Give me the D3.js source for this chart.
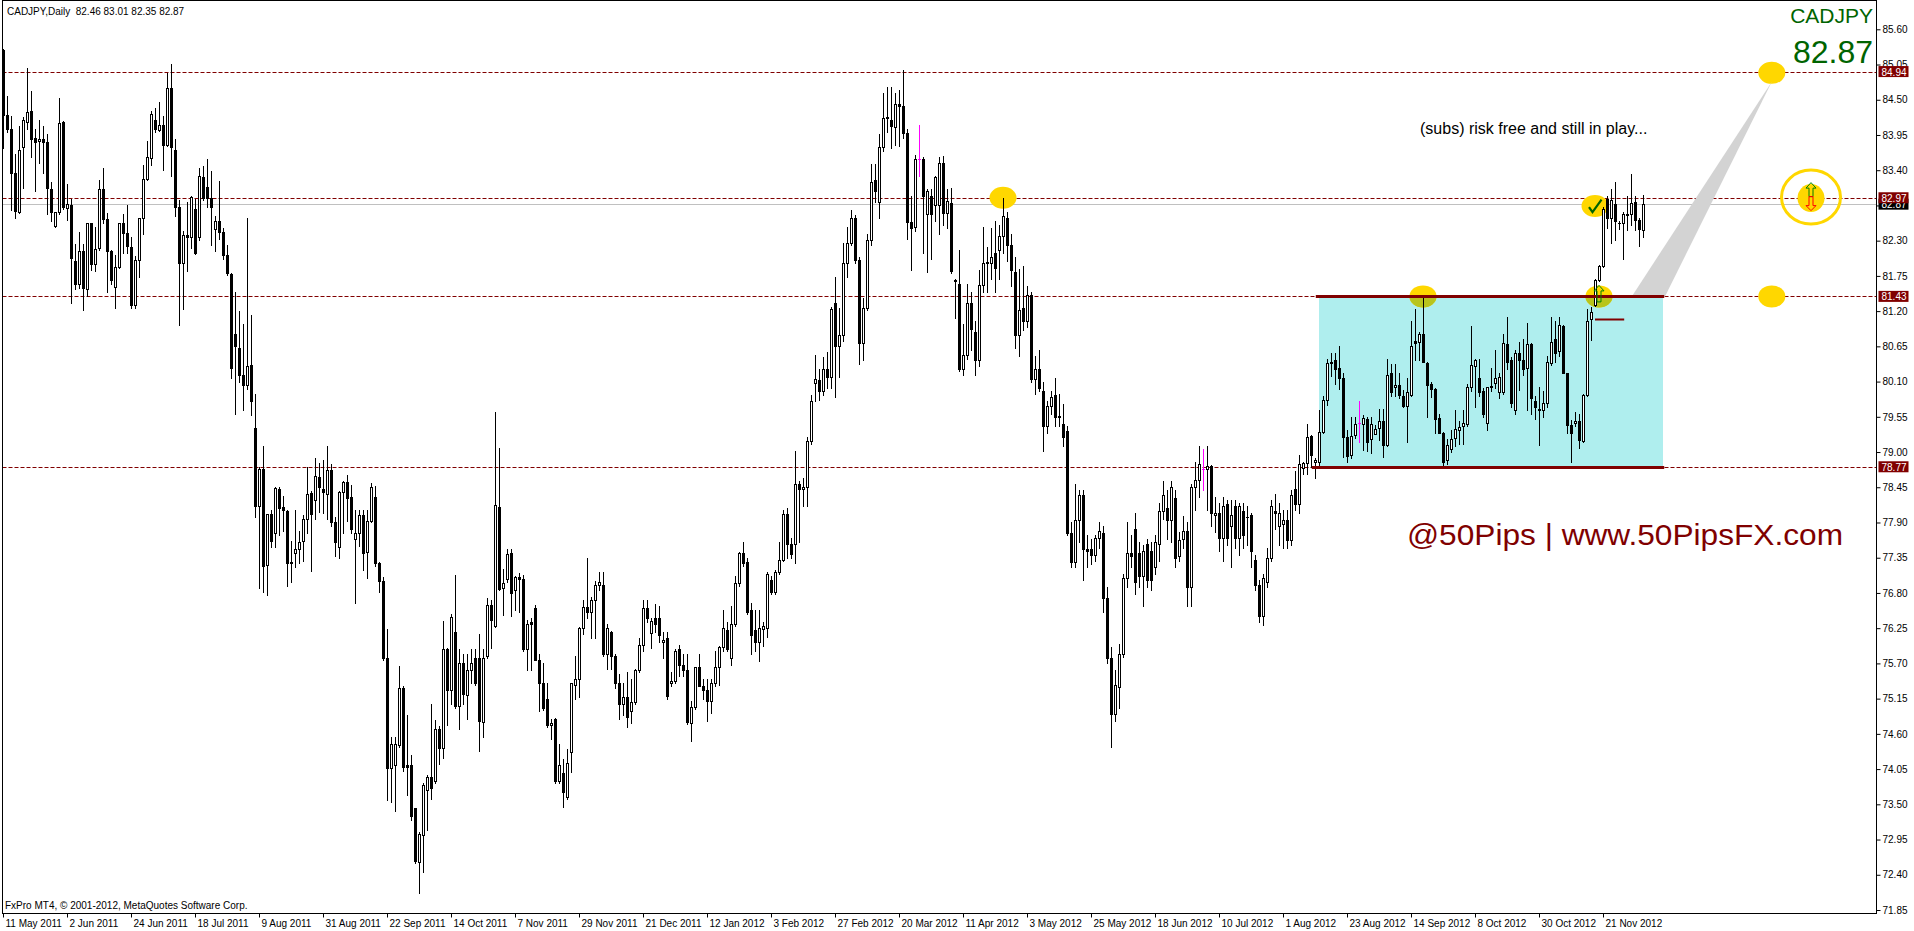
<!DOCTYPE html>
<html>
<head>
<meta charset="utf-8">
<script src="https://cdn.jsdelivr.net/npm/d3@7"></script>
<style>
  body { margin: 0; background: #fff; }
  svg { display: block; }
</style>
</head>
<body>
<div id="chart"></div>
<script>
// --------------------
// DATA
// --------------------
const symbol = "CADJPY";
const lastQuote = [82.46, 83.01, 82.35, 82.87];

// daily candles [open, high, low, close], 11 May 2011 .. 5 Dec 2012
const candles = [
  [85.28,85.30,83.74,84.26],[84.26,84.56,84.00,84.05],[84.04,84.25,82.78,83.35],[83.35,83.66,82.65,82.77],
  [82.75,84.09,82.73,83.72],[83.76,84.23,83.12,84.18],[84.16,84.99,84.04,84.31],[84.32,84.64,83.61,83.88],
  [83.90,84.05,83.07,83.84],[83.86,84.18,83.52,83.89],[83.89,84.09,83.35,83.84],[83.84,83.96,82.71,83.12],
  [83.10,83.22,82.60,82.74],[82.53,82.74,82.51,82.74],[82.74,84.52,82.72,84.13],[84.15,84.17,82.80,82.82],
  [82.81,83.19,82.62,82.88],[82.86,82.95,81.32,82.03],[81.98,82.25,81.54,81.63],[81.62,82.43,81.56,82.14],
  [82.14,82.25,81.22,81.56],[81.54,82.58,81.44,82.57],[82.57,82.58,81.84,81.93],[81.93,82.52,81.82,82.17],
  [82.18,83.25,82.16,83.10],[83.10,83.44,82.57,82.64],[82.64,82.73,81.50,82.14],[82.14,82.15,81.63,81.68],
  [81.58,82.08,81.25,81.89],[81.89,82.58,81.87,82.57],[82.57,82.72,82.10,82.42],[82.42,82.86,82.10,82.21],
  [82.20,82.35,81.25,81.29],[81.29,82.06,81.25,82.00],[82.00,82.65,81.73,82.65],[82.65,83.48,82.41,83.27],
  [83.27,83.86,83.25,83.60],[83.59,84.33,83.48,84.28],[84.19,84.37,84.00,84.04],[84.03,84.47,84.02,84.10],
  [84.10,84.25,83.41,83.80],[83.80,84.92,83.78,84.69],[84.69,85.06,83.31,83.76],[83.72,83.88,82.68,82.82],
  [82.82,82.93,80.99,81.95],[81.95,82.45,81.24,82.39],[82.39,82.90,81.82,82.35],[82.35,83.00,82.18,82.98],
  [82.80,82.95,82.09,82.10],[82.35,83.43,82.31,83.31],[83.30,83.46,82.94,82.96],[83.14,83.58,82.83,82.96],
  [82.96,83.39,82.23,82.82],[82.48,82.68,82.14,82.61],[82.61,83.23,82.32,82.43],[82.44,82.50,82.01,82.08],
  [82.08,82.23,81.76,81.79],[81.78,81.80,80.16,80.31],[80.84,81.50,79.60,80.65],[80.62,81.20,80.09,80.20],
  [80.21,81.00,79.65,80.05],[80.04,82.66,79.98,80.34],[80.36,81.14,79.58,79.80],[79.38,79.90,77.98,78.15],
  [78.15,78.76,76.88,78.73],[78.73,79.09,76.82,77.22],[77.24,78.04,76.77,78.03],[78.03,78.10,77.52,77.61],
  [77.74,78.45,77.52,78.44],[78.43,78.45,77.70,78.12],[78.14,78.31,77.76,78.09],[78.08,78.10,76.91,77.27],
  [77.27,77.61,76.97,77.29],[77.43,78.10,77.21,77.49],[77.49,77.76,77.26,77.59],[77.61,78.02,77.30,77.95],
  [77.95,78.76,77.74,78.34],[78.36,78.39,77.15,78.04],[78.25,78.90,77.95,78.62],[78.61,78.83,78.07,78.45],
  [78.42,78.87,78.05,78.37],[78.34,79.09,77.95,78.72],[78.72,78.81,77.85,77.90],[77.90,77.98,77.38,77.60],
  [77.52,78.39,77.35,78.37],[78.38,78.55,77.73,78.53],[78.53,78.64,77.92,78.29],[78.30,78.49,77.73,77.80],
  [77.64,78.10,76.65,77.73],[77.73,78.10,77.54,78.02],[78.02,78.10,77.16,77.43],[77.44,78.10,77.04,77.93],
  [77.93,78.51,77.90,78.46],[78.30,78.47,77.22,77.26],[77.26,77.29,76.82,76.99],[76.99,77.05,75.75,75.79],
  [75.79,76.23,73.56,74.07],[74.07,74.55,73.54,74.44],[74.11,74.55,73.40,74.44],[74.43,75.66,74.39,75.31],
  [75.32,75.35,74.02,74.09],[74.11,74.90,73.65,74.08],[74.11,74.27,73.26,73.31],[73.44,73.45,72.58,72.62],
  [72.60,73.06,72.12,73.04],[73.02,73.83,72.44,73.80],[73.73,73.95,73.10,73.92],[73.92,75.07,73.58,73.75],
  [73.86,74.82,73.84,74.68],[74.68,74.72,74.13,74.38],[74.38,76.36,74.22,75.92],[75.92,75.94,74.74,75.29],
  [75.29,76.47,75.07,76.43],[76.19,77.08,75.01,75.04],[75.04,75.93,74.67,75.71],[75.71,75.84,75.07,75.22],
  [75.21,75.84,74.83,75.60],[75.60,75.93,75.40,75.71],[75.78,75.93,75.37,75.40],[75.78,76.16,74.34,74.80],
  [74.78,75.92,74.55,75.79],[75.81,76.72,75.78,76.61],[76.61,76.69,75.94,76.38],[76.28,79.63,76.27,78.17],
  [78.14,79.06,76.85,76.86],[76.88,77.17,76.45,76.96],[77.02,77.49,76.97,77.41],[77.43,77.48,76.44,76.80],
  [76.85,77.07,76.53,77.05],[77.05,77.11,76.50,77.02],[77.02,77.08,75.90,75.92],[75.92,76.38,75.60,76.31],
  [76.34,76.41,75.60,76.31],[76.56,76.61,75.75,75.76],[75.76,75.84,74.96,75.40],[75.40,75.70,74.97,75.00],
  [75.15,75.39,74.71,74.74],[74.74,74.83,74.52,74.77],[74.83,74.85,73.84,73.87],[73.87,74.44,73.84,74.11],
  [73.99,74.21,73.46,73.69],[73.61,74.36,73.58,74.14],[74.32,75.40,74.00,75.39],[75.37,75.81,75.15,75.46],
  [75.46,76.27,75.18,76.25],[76.25,76.69,76.16,76.58],[76.58,77.35,76.41,76.51],[76.51,76.73,76.10,76.69],
  [76.69,76.99,76.10,76.92],[76.92,77.13,76.85,76.97],[76.92,77.13,75.82,75.84],[75.84,76.31,75.62,76.25],
  [76.19,76.21,75.62,75.81],[75.81,75.84,75.31,75.40],[75.40,75.54,74.83,75.07],[75.07,75.40,74.90,75.18],
  [75.18,75.56,74.71,74.87],[74.95,75.46,74.77,75.10],[75.10,75.62,75.07,75.60],[75.60,76.10,75.56,75.98],
  [75.98,76.69,75.90,76.56],[76.56,76.69,76.34,76.41],[76.17,76.41,75.94,76.36],[76.41,76.63,76.19,76.31],
  [76.41,76.60,76.03,76.14],[76.03,76.19,75.78,76.07],[76.09,76.19,75.15,75.19],[75.40,75.56,75.34,75.43],
  [75.43,75.93,75.40,75.90],[75.92,75.98,75.50,75.68],[75.68,75.84,75.50,75.59],[75.59,75.84,74.76,74.78],
  [74.77,75.12,74.49,75.02],[75.02,75.65,74.99,75.64],[75.64,75.84,75.34,75.35],[75.35,75.46,75.15,75.29],
  [75.28,75.46,74.80,75.12],[75.12,75.46,74.93,75.40],[75.40,75.90,75.34,75.65],[75.65,75.97,75.37,75.95],
  [75.95,76.53,75.90,76.25],[76.22,76.34,75.90,75.93],[75.79,76.60,75.67,76.32],[76.32,77.07,76.28,76.95],
  [76.95,77.44,76.91,77.42],[77.42,77.59,77.22,77.26],[77.29,77.35,76.47,76.50],[76.53,76.65,75.84,76.15],
  [76.22,76.53,75.90,76.04],[76.04,76.53,75.73,76.26],[76.23,76.34,75.97,76.28],[76.25,77.13,76.12,77.10],
  [77.00,77.07,76.78,76.82],[76.82,77.16,76.78,77.13],[77.13,77.60,77.10,77.32],[77.32,78.10,77.30,78.03],
  [78.04,78.12,77.35,77.57],[77.57,77.66,77.35,77.41],[77.57,79.02,77.27,78.50],[78.50,78.55,77.60,78.42],
  [78.42,78.60,78.15,78.46],[78.46,79.23,78.15,79.17],[79.17,79.89,79.13,79.79],[80.08,80.52,79.80,80.14],
  [80.12,80.29,79.82,79.96],[79.96,80.48,79.89,80.29],[80.29,80.56,80.00,80.17],[80.17,81.26,80.00,81.23],
  [81.32,81.74,79.86,80.66],[80.66,81.25,80.17,80.82],[80.82,82.26,80.73,81.95],[81.95,82.52,81.74,82.26],
  [82.26,82.78,82.23,82.65],[82.65,82.70,81.95,82.00],[82.00,82.05,80.38,80.71],[80.71,81.40,80.43,81.25],
  [81.25,82.40,81.22,82.31],[82.31,83.49,82.23,83.22],[83.24,83.50,82.90,83.08],[82.90,83.97,82.65,83.77],
  [83.77,84.60,83.70,84.21],[84.21,84.70,84.00,84.23],[84.19,84.70,83.75,84.09],[84.07,84.61,83.80,84.44],
  [84.44,84.65,83.78,84.40],[84.40,84.96,83.90,83.98],[83.98,84.05,82.33,82.59],[82.59,83.00,81.84,82.49],
  [82.51,83.63,82.45,83.57],[83.57,84.11,83.31,83.57],[83.57,83.60,82.10,83.00],[82.72,83.10,81.81,83.08],
  [83.00,83.10,82.02,82.72],[82.85,83.31,82.60,83.29],[82.85,83.60,82.40,83.52],[83.52,83.62,82.54,82.73],
  [82.73,83.10,82.50,82.92],[82.89,83.13,81.80,81.82],[81.67,81.70,81.10,81.68],[81.63,82.16,80.27,80.29],
  [80.29,81.00,80.20,80.52],[80.52,81.63,80.45,81.32],[81.32,81.50,80.60,80.92],[80.87,81.05,80.20,80.43],
  [80.43,81.84,80.35,81.61],[81.61,82.52,81.50,81.95],[81.95,82.20,81.50,81.96],[81.95,82.50,81.70,82.05],
  [82.10,82.60,81.50,81.88],[82.16,82.55,81.70,82.37],[82.37,82.97,82.10,82.68],[82.65,82.75,81.98,82.24],
  [82.24,82.40,81.60,81.84],[81.81,82.05,80.62,80.83],[80.83,81.85,80.50,81.22],[81.25,81.90,80.90,81.04],
  [81.04,81.60,80.95,81.45],[81.45,81.50,80.10,80.14],[80.14,80.50,79.90,80.30],[80.30,80.60,79.95,80.00],
  [79.96,80.10,79.02,79.41],[79.41,79.80,79.30,79.72],[79.72,79.95,79.60,79.86],[79.89,80.15,79.40,79.54],
  [79.54,79.90,79.40,79.57],[79.44,79.75,79.10,79.23],[79.33,79.40,77.70,77.73],[77.73,77.90,77.20,77.28],
  [77.28,78.50,77.20,77.94],[77.94,78.40,77.60,78.33],[78.33,78.40,77.00,77.49],[77.49,77.70,77.20,77.45],
  [77.49,77.65,77.25,77.40],[77.40,77.70,77.30,77.66],[77.66,77.90,77.50,77.77],[77.73,77.85,76.50,76.72],
  [76.72,76.90,75.70,75.78],[75.78,75.95,74.40,74.91],[74.91,75.60,74.80,75.36],[75.33,76.00,75.00,75.85],
  [75.85,77.10,75.80,77.03],[77.03,77.90,76.90,77.42],[77.42,77.70,77.20,77.38],[77.80,78.05,76.79,76.97],
  [77.42,77.60,76.90,77.07],[77.07,77.55,76.60,77.45],[77.56,77.65,76.90,77.00],[77.45,77.60,76.85,77.00],
  [77.21,77.70,77.10,77.59],[77.56,78.20,77.30,78.08],[78.08,78.55,77.95,78.33],[78.12,78.40,77.65,77.94],
  [77.94,78.55,77.60,78.46],[78.29,78.40,77.20,77.35],[77.38,77.75,77.30,77.63],[77.64,78.00,77.50,77.77],
  [77.77,77.90,76.60,76.90],[76.90,78.50,76.60,78.46],[78.46,78.85,78.10,78.57],[78.57,79.10,78.30,78.81],
  [78.74,79.05,78.40,78.74],[78.74,79.09,78.10,78.78],[78.78,78.80,77.85,78.05],[78.01,78.30,77.75,78.05],
  [78.05,78.20,77.45,77.66],[77.66,78.30,77.30,78.15],[78.19,78.25,77.55,77.66],[77.84,78.25,77.20,78.01],
  [78.15,78.25,77.50,77.66],[77.66,78.20,77.40,78.15],[78.08,78.20,77.50,77.70],[77.98,78.15,77.55,77.99],
  [78.01,78.05,77.20,77.45],[77.31,77.40,76.85,76.93],[76.93,77.00,76.34,76.44],[76.44,77.10,76.30,77.03],
  [76.97,77.50,76.90,77.35],[77.35,78.25,77.30,78.15],[78.08,78.35,77.80,78.05],[77.84,78.20,77.55,78.05],
  [77.87,78.10,77.50,77.94],[77.94,78.10,77.50,77.63],[77.63,78.40,77.55,78.33],[78.43,78.70,78.10,78.19],
  [78.19,78.95,78.05,78.81],[78.75,78.85,78.65,78.83],[78.83,79.44,78.65,79.23],[79.25,79.27,78.77,78.96],
  [78.84,78.90,78.60,78.88],[78.85,79.66,78.80,79.31],[79.32,79.87,79.29,79.81],[79.81,80.45,79.74,80.39],
  [80.39,80.55,80.18,80.40],[80.44,80.55,80.07,80.29],[80.31,80.66,79.99,80.15],[80.15,80.23,78.93,79.23],
  [79.24,79.35,78.85,78.94],[78.96,79.55,78.90,79.25],[79.27,79.55,79.22,79.44],[79.45,79.79,79.15,79.45],
  [79.44,79.58,79.03,79.53],[79.51,79.55,79.01,79.16],[79.20,79.55,78.98,79.44],[79.28,79.42,79.28,79.36],
  [79.37,79.67,79.19,79.49],[79.49,79.67,78.93,79.11],[79.11,80.46,79.10,80.20],[80.23,80.38,79.87,79.93],
  [80.02,80.38,79.87,80.05],[80.05,80.24,79.85,79.89],[79.88,79.97,79.70,79.72],[79.72,80.15,79.16,79.94],
  [79.89,81.04,79.88,80.65],[80.74,81.24,80.43,80.71],[80.72,80.88,80.43,80.85],[80.85,81.43,80.40,80.40],
  [80.39,80.41,79.55,80.05],[80.07,80.10,79.86,79.99],[79.99,80.00,79.30,79.51],[79.53,79.60,79.30,79.30],
  [79.30,79.32,78.80,78.85],[78.87,79.20,78.82,79.11],[79.04,79.35,79.00,79.20],[79.22,79.66,79.10,79.36],
  [79.35,79.49,79.13,79.39],[79.40,79.66,79.13,79.45],[79.44,80.07,79.40,80.02],[80.01,80.96,79.95,80.36],
  [80.34,80.46,79.71,80.44],[80.15,80.46,79.87,79.94],[79.96,80.00,79.55,79.60],[79.45,80.02,79.35,80.01],
  [80.01,80.31,79.95,80.03],[80.08,80.59,80.00,80.15],[79.93,80.24,79.85,80.17],[79.93,80.85,79.90,80.70],
  [80.69,81.11,80.30,80.41],[80.44,80.49,79.71,79.77],[79.65,80.60,79.60,80.55],[80.55,80.72,79.97,80.43],
  [80.43,80.76,80.20,80.29],[80.31,81.01,79.66,80.69],[80.69,80.70,79.60,79.85],[79.80,79.87,79.51,79.70],
  [79.67,80.02,79.11,79.66],[79.66,79.96,79.55,79.76],[79.76,80.50,79.70,80.40],[80.39,81.11,80.36,80.72],
  [80.76,81.05,80.41,80.55],[80.57,81.11,80.50,80.98],[80.97,80.98,80.23,80.24],[80.23,80.24,79.29,79.42],
  [79.42,79.50,78.85,79.30],[79.46,79.63,79.40,79.49],[79.49,79.60,79.06,79.19],[79.18,79.90,79.16,79.89],
  [79.89,81.24,79.87,81.05],[81.07,81.27,80.75,81.19],[81.30,81.70,81.28,81.68],[81.69,81.92,81.67,81.91],
  [81.91,82.83,81.89,82.79],[82.95,82.99,82.49,82.65],[82.65,83.10,82.26,82.94],[82.88,83.22,82.31,82.60],
  [82.57,82.60,82.48,82.58],[82.57,82.75,82.01,82.72],[82.70,82.99,82.47,82.72],[82.72,83.34,82.55,82.89],
  [82.91,83.00,82.47,82.62],[82.62,82.65,82.21,82.48],lastQuote
];

// bars whose candle is painted magenta in the picture
const magentaBars = [229, 300, 339];

// date labels, one every 16 bars
const dateLabels = [
  "11 May 2011","2 Jun 2011","24 Jun 2011","18 Jul 2011","9 Aug 2011","31 Aug 2011",
  "22 Sep 2011","14 Oct 2011","7 Nov 2011","29 Nov 2011","21 Dec 2011","12 Jan 2012",
  "3 Feb 2012","27 Feb 2012","20 Mar 2012","11 Apr 2012","3 May 2012","25 May 2012",
  "18 Jun 2012","10 Jul 2012","1 Aug 2012","23 Aug 2012","14 Sep 2012","8 Oct 2012",
  "30 Oct 2012","21 Nov 2012"
];
const dateTickBars = dateLabels.map((d, k) => k * 16);

const priceTicks = [
  85.60,85.05,84.50,83.95,83.40,82.85,82.30,81.75,81.20,80.65,80.10,79.55,79.00,
  78.45,77.90,77.35,76.80,76.25,75.70,75.15,74.60,74.05,73.50,72.95,72.40,71.85
];

// horizontal levels (dashed)
const levels = [84.94, 82.97, 81.43, 78.77];

// range box [fromBar, toBar, low, high]
const rangeBox = [329, 415, 78.77, 81.43];

// yellow markers [bar, price]
const markers = [[250, 82.97], [355, 81.43], [399, 81.43], [398, 82.84], [442.2, 84.92], [442.2, 81.43]];
const targetCircle = [452, 82.98];

// -------------------- 
// LAYOUT
// --------------------
const width = 1914;
const height = 931;
const plotLeft = 2.5, plotRight = 1876.5, plotTop = 0.5, plotBottom = 913.5;

const svg = d3.select("#chart")
  .append("svg")
  .attr("width", width)
  .attr("height", height)
  .style("font-family", "'Liberation Sans', Arial, sans-serif");

svg.append("rect").attr("width", width).attr("height", height).attr("fill", "#fff");

const x = d3.scaleLinear()
  .domain([0, candles.length - 1])
  .range([3, 3 + 4 * (candles.length - 1)]);

const y = d3.scaleLinear()
  .domain([71.85, 85.60])
  .range([910, 29.3]);

const py = v => Math.round(y(v));

const plot = svg.append("g");

// levels
plot.selectAll(".level")
  .data(levels)
  .join("line")
  .attr("x1", plotLeft).attr("x2", plotRight)
  .attr("y1", d => py(d) + 0.5).attr("y2", d => py(d) + 0.5)
  .attr("stroke", "#800000")
  .attr("stroke-dasharray", "4,2");

// bid line
plot.append("line")
  .attr("x1", plotLeft).attr("x2", plotRight)
  .attr("y1", py(lastQuote[3]) + 0.5).attr("y2", py(lastQuote[3]) + 0.5)
  .attr("stroke", "#c0c0c0");

// range box
const boxX0 = x(rangeBox[0]), boxX1 = x(rangeBox[1]);
const boxY0 = y(rangeBox[3]), boxY1 = y(rangeBox[2]);
plot.append("rect")
  .attr("x", boxX0).attr("y", boxY0)
  .attr("width", boxX1 - boxX0).attr("height", boxY1 - boxY0)
  .attr("fill", "#afeeee");

svg.append("clipPath").attr("id", "boxclip")
  .append("rect")
  .attr("x", boxX0).attr("y", boxY0)
  .attr("width", boxX1 - boxX0).attr("height", boxY1 - boxY0);

// yellow markers
const rx = 13.5, ry = 11;
plot.selectAll(".dot")
  .data(markers)
  .join("ellipse")
  .attr("cx", d => x(d[0])).attr("cy", d => y(d[1]))
  .attr("rx", rx).attr("ry", ry)
  .attr("fill", "#ffd700");

plot.append("g").attr("clip-path", "url(#boxclip)")
  .selectAll("ellipse")
  .data(markers)
  .join("ellipse")
  .attr("cx", d => x(d[0])).attr("cy", d => y(d[1]))
  .attr("rx", rx).attr("ry", ry)
  .attr("fill", "#b8c41c");

// target circle
const tcx = x(targetCircle[0]), tcy = y(targetCircle[1]);
plot.append("ellipse")
  .attr("cx", tcx).attr("cy", tcy)
  .attr("rx", 29.5).attr("ry", 27)
  .attr("fill", "none").attr("stroke", "#ffd700").attr("stroke-width", 3);
plot.append("ellipse")
  .attr("cx", tcx).attr("cy", tcy + 1)
  .attr("rx", 13.5).attr("ry", 14)
  .attr("fill", "#ffd700");

// gray projection triangle
const tri = [[442.2, 84.78], [407.2, rangeBox[3]], [415.5, rangeBox[3]]];
plot.append("path")
  .attr("d", "M" + tri.map(p => [x(p[0]), y(p[1])].join(",")).join("L") + "Z")
  .attr("fill", "#d3d3d3");

// --------------------
// CANDLES
// --------------------
const bars = plot.append("g").attr("shape-rendering", "crispEdges");

bars.selectAll(".wick")
  .data(candles)
  .join("line")
  .attr("x1", (d, i) => x(i) + 0.5).attr("x2", (d, i) => x(i) + 0.5)
  .attr("y1", d => py(d[1])).attr("y2", d => py(d[2]) + 1)
  .attr("stroke", (d, i) => magentaBars.includes(i) ? "#ff00ff" : "#000");

bars.selectAll(".body")
  .data(candles)
  .join("rect")
  .each(function(d, i) {
    const cx = x(i);
    const yo = py(d[0]), yc = py(d[3]);
    const col = magentaBars.includes(i) ? "#ff00ff" : "#000";
    const el = d3.select(this);
    if (yo === yc) {
      el.attr("x", cx - 1).attr("y", yo).attr("width", 3).attr("height", 1).attr("fill", col);
    } else if (d[3] > d[0]) {
      el.attr("x", cx - 0.5).attr("y", yc + 0.5).attr("width", 2).attr("height", yo - yc)
        .attr("fill", "#fff").attr("stroke", col);
    } else {
      el.attr("x", cx - 1).attr("y", yo).attr("width", 3).attr("height", yc - yo + 1).attr("fill", col);
    }
  });

// range box borders
plot.selectAll(".boxline")
  .data([[rangeBox[3], 328.2], [rangeBox[2], 327.2]])
  .join("line")
  .attr("x1", d => x(d[1])).attr("x2", x(415.3))
  .attr("y1", d => py(d[0]) + 0.5).attr("y2", d => py(d[0]) + 0.5)
  .attr("stroke", "#800000").attr("stroke-width", 3);

// stop line
plot.append("line")
  .attr("x1", x(398)).attr("x2", x(405.3))
  .attr("y1", py(81.08) + 0.5).attr("y2", py(81.08) + 0.5)
  .attr("stroke", "#800000").attr("stroke-width", 2);

// arrows
function arrow(cx, tipY, baseY, endY, color) {
  const dir = Math.sign(baseY - tipY);
  const p = [
    [cx, tipY], [cx + 5, baseY], [cx + 2, baseY], [cx + 2, endY],
    [cx - 2, endY], [cx - 2, baseY], [cx - 5, baseY]
  ];
  plot.append("path")
    .attr("d", "M" + p.map(q => q.join(",")).join("L") + "Z")
    .attr("fill", "none").attr("stroke", color).attr("stroke-width", 1);
}
arrow(tcx, tcy - 14.5, tcy - 9, tcy - 0.5, "#008000");
arrow(tcx, tcy + 13.5, tcy + 8.5, tcy - 0.5, "#ff0000");
const m3x = x(markers[2][0]), m3y = y(markers[2][1]);
arrow(m3x, m3y - 11, m3y - 5.5, m3y + 5.5, "#008000");

// check mark
const m4x = x(markers[3][0]), m4y = y(markers[3][1]);
plot.append("path")
  .attr("d", `M${m4x - 6},${m4y + 1}L${m4x - 2.5},${m4y + 6}L${m4x + 6.5},${m4y - 6.5}`)
  .attr("fill", "none").attr("stroke", "#006400").attr("stroke-width", 2.2);

// --------------------
// FRAME & AXES
// --------------------
svg.append("rect")
  .attr("x", plotLeft).attr("y", plotTop)
  .attr("width", plotRight - plotLeft).attr("height", plotBottom - plotTop)
  .attr("fill", "none").attr("stroke", "#000");

const yAxis = svg.append("g")
  .attr("transform", `translate(${plotRight},0)`)
  .call(d3.axisRight(y).tickValues(priceTicks).tickSize(4).tickPadding(2).tickFormat(d3.format(".2f")));
yAxis.select(".domain").remove();
yAxis.selectAll("text").attr("font-size", 10).attr("fill", "#000").style("font-family", "'Liberation Sans', Arial, sans-serif");
yAxis.selectAll("line").attr("stroke", "#000");

const xAxis = svg.append("g")
  .attr("transform", `translate(0,${plotBottom})`)
  .call(d3.axisBottom(x).tickValues(dateTickBars).tickSize(4).tickFormat((d, k) => dateLabels[k]));
xAxis.select(".domain").remove();
xAxis.selectAll("line").attr("stroke", "#000");
xAxis.selectAll("text")
  .attr("text-anchor", "start").attr("x", 2).attr("y", 4).attr("dy", "0.9em")
  .attr("font-size", 10).attr("fill", "#000")
  .style("font-family", "'Liberation Sans', Arial, sans-serif");

// axis value labels for levels and last price
const labelX = plotRight + 2;
svg.append("rect")
  .attr("x", labelX).attr("y", y(lastQuote[3]) - 5.5).attr("width", 30).attr("height", 11)
  .attr("fill", "#000");
svg.append("text")
  .attr("x", labelX + 3).attr("y", y(lastQuote[3]) + 4)
  .attr("font-size", 10).attr("fill", "#fff").text(lastQuote[3].toFixed(2));

svg.selectAll(".lvlLabel")
  .data(levels)
  .join("rect")
  .attr("x", labelX).attr("y", d => y(d) - 5.5).attr("width", 30).attr("height", 11)
  .attr("fill", "#800000");
svg.selectAll(".lvlText")
  .data(levels)
  .join("text")
  .attr("x", labelX + 3).attr("y", d => y(d) + 4)
  .attr("font-size", 10).attr("fill", "#fff")
  .text(d => d.toFixed(2));

// --------------------
// TEXTS
// --------------------
svg.append("text")
  .attr("x", 7).attr("y", 15)
  .attr("font-size", 10).attr("fill", "#000")
  .text(`${symbol},Daily  ${lastQuote.map(v => v.toFixed(2)).join(" ")}`)
  .attr("xml:space", "preserve");

svg.append("text")
  .attr("x", 5).attr("y", 909)
  .attr("font-size", 10).attr("fill", "#000")
  .text("FxPro MT4, \u00a9 2001-2012, MetaQuotes Software Corp.");

svg.append("text")
  .attr("x", 1873).attr("y", 23).attr("text-anchor", "end")
  .attr("font-family", "'Liberation Sans', Arial, sans-serif")
  .attr("font-size", 21).attr("fill", "#006400")
  .text(symbol);

svg.append("text")
  .attr("x", 1873).attr("y", 63).attr("text-anchor", "end")
  .attr("font-family", "'Liberation Sans', Arial, sans-serif")
  .attr("font-size", 32).attr("fill", "#006400")
  .text(lastQuote[3].toFixed(2));

svg.append("text")
  .attr("x", x(354.25)).attr("y", 134)
  .attr("font-family", "'Liberation Sans', Arial, sans-serif")
  .attr("font-size", 16).attr("fill", "#000")
  .text("(subs) risk free and still in play...");

svg.append("text")
  .attr("x", 1407).attr("y", 545)
  .attr("font-family", "'Liberation Sans', Arial, sans-serif")
  .attr("font-size", 30).attr("fill", "#800000")
  .attr("textLength", 436).attr("lengthAdjust", "spacingAndGlyphs")
  .text("@50Pips | www.50PipsFX.com");
</script>
</body>
</html>
